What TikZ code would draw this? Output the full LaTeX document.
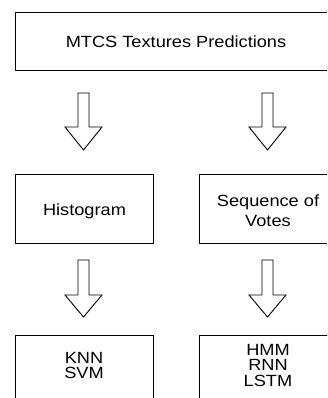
\documentclass[tikz,border=0pt]{standalone}
\usepackage{fontspec}
\setmainfont{Liberation Sans}
\newcommand{\sq}[1]{\scalebox{1}[0.89]{#1}}
\begin{document}
\begin{tikzpicture}[x=1pt,y=-1pt,
  box/.style={draw=black,line width=0.9pt,fill=white},
  lbl/.style={anchor=base,inner sep=0pt,font=\fontsize{18.2}{20}\selectfont},
  blockarrow/.style={draw=black,line width=0.9pt,line join=miter}]
\useasboundingbox (0,0) rectangle (327,398);
\clip (0,0) rectangle (327,398);
\fill[white] (0,0) rectangle (327,398);
% boxes
\draw[box] (15,12) rectangle (337,70);
\node[lbl] (top) at (176,47.3) {\sq{MTCS Textures Predictions}};
\draw[box] (15,174) rectangle (153,243);
\node[lbl] (hist) at (84.5,215.7) {\sq{Histogram}};
\draw[box] (199,174) rectangle (337,243);
\node[lbl] (seqa) at (268,206.7) {\sq{Sequence of}};
\node[lbl] (seqb) at (268,226.7) {\sq{Votes}};
\draw[box] (15,335) rectangle (153,410);
\node[lbl] (knn) at (84,363.3) {\sq{KNN}};
\node[lbl] (svm) at (84,378.8) {\sq{SVM}};
\draw[box] (199,335) rectangle (337,410);
\node[lbl] (hmm) at (268,355) {\sq{HMM}};
\node[lbl] (rnn) at (268,370.7) {\sq{RNN}};
\node[lbl] (lstm) at (268,386.5) {\sq{LSTM}};
% block arrows
\foreach \cx/\ty/\hy/\tip in {83.5/93/127/150, 267.5/93/127/150, 83.5/260/295/317, 267.5/260/295/317}{
  \draw[blockarrow] (\cx-5.5,\ty) -- (\cx+5.5,\ty) -- (\cx+5.5,\hy) -- (\cx+18.5,\hy)
    -- (\cx,\tip) -- (\cx-18.5,\hy) -- (\cx-5.5,\hy) -- cycle;
}
\end{tikzpicture}
\end{document}
